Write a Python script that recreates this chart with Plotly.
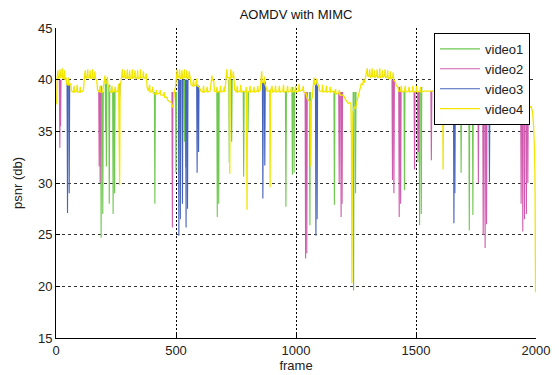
import plotly.graph_objects as go

# ---------------- data ----------------
x_ticks = [0, 500, 1000, 1500, 2000]
y_ticks = [15, 20, 25, 30, 35, 40, 45]

# video4 (yellow): (frame, psnr) vertices
video4_points = [
    (0, 37.6), (3, 38.0), (5, 40.2), (8, 40.9), (10, 40.1), (15, 40.3), (17, 41.0), (19, 40.2), (24, 40.4),
    (26, 41.1), (28, 40.1), (33, 40.3), (35, 40.9), (37, 40.0), (42, 40.2), (44, 39.6),
    (50, 39.5), (53, 40.2), (55, 39.5), (62, 39.6), (64, 38.9),
    (72, 38.8), (75, 39.4), (77, 38.8), (86, 38.9), (88, 39.5), (90, 38.8), (98, 38.8), (101, 39.3), (103, 38.8),
    (112, 38.9), (115, 39.1),
    (118, 40.2), (122, 40.9), (124, 40.1), (130, 40.3), (132, 41.0), (134, 40.2), (140, 40.2), (142, 40.9),
    (144, 40.1), (150, 40.3), (152, 41.0), (154, 40.1), (160, 40.2), (162, 40.8), (164, 40.1), (170, 39.9),
    (173, 39.0), (180, 38.8), (184, 39.4), (186, 38.8), (194, 38.8), (197, 39.3),
    (200, 39.5), (204, 40.4), (206, 39.6), (212, 39.7), (214, 40.3), (216, 39.5), (221, 39.3),
    (223, 38.9), (230, 38.8), (233, 39.4), (235, 38.8), (244, 38.9), (247, 39.3), (249, 38.8), (257, 38.9),
    (261, 39.6), (265, 29.8), (267, 39.5), (271, 39.8),
    (274, 40.4), (277, 41.0), (279, 40.2), (285, 40.3), (287, 40.9), (289, 40.1), (295, 40.2), (297, 41.0),
    (299, 40.1), (305, 40.3), (307, 40.9), (309, 40.1), (316, 40.2), (318, 41.0), (320, 40.1), (327, 40.3),
    (329, 40.9), (331, 40.1), (338, 40.2), (340, 40.9), (342, 40.1), (350, 40.2), (352, 41.0), (354, 40.1),
    (362, 40.3), (364, 40.8), (366, 40.1), (373, 40.2), (376, 40.6),
    (380, 39.2), (385, 38.9), (390, 39.5), (392, 38.8), (400, 38.9), (403, 39.3), (405, 38.7),
    (415, 38.6), (418, 39.0), (420, 38.6), (432, 38.7), (435, 39.0), (437, 38.5), (448, 38.5), (451, 38.8),
    (453, 38.3), (462, 38.3), (466, 38.0), (475, 37.9), (480, 37.8), (484, 37.3), (489, 37.6), (493, 38.8),
    (498, 39.3),
    (502, 40.3), (505, 41.0), (507, 40.2), (513, 40.3), (515, 41.0), (517, 40.1), (523, 40.2), (525, 40.9),
    (527, 40.1), (533, 40.3), (535, 41.0), (537, 40.2), (543, 40.2), (545, 40.9), (547, 40.1), (553, 40.2),
    (555, 40.8), (558, 40.0),
    (563, 39.5), (570, 39.4), (573, 40.0), (575, 39.4), (583, 39.5), (586, 40.1), (588, 39.4), (597, 39.3),
    (604, 38.9), (612, 38.8), (615, 39.4), (617, 38.8), (627, 38.9), (630, 39.3), (632, 38.8), (642, 38.9),
    (647, 40.0), (650, 40.4), (652, 39.9), (657, 40.0),
    (660, 38.9), (668, 38.8), (671, 39.3), (673, 38.8), (683, 38.9), (686, 39.4), (688, 38.8), (698, 38.9),
    (701, 39.3), (703, 38.8),
    (709, 40.3), (712, 41.0), (714, 40.2), (720, 40.2), (722, 40.1), (724, 30.9), (726, 40.2), (729, 41.0),
    (731, 40.2), (737, 40.3), (739, 40.8), (741, 39.6),
    (745, 39.0), (752, 38.8), (755, 39.4), (757, 38.8), (767, 38.9), (770, 39.5), (772, 38.8), (782, 38.9),
    (790, 38.8), (793, 39.3), (796, 27.4), (798, 38.8), (806, 38.9), (809, 39.4), (811, 38.8), (822, 38.9),
    (825, 39.3), (827, 38.8), (838, 38.9), (841, 39.4), (843, 38.8), (851, 39.0),
    (854, 39.8), (857, 40.8), (859, 39.7), (866, 39.8), (868, 40.3), (870, 39.6), (877, 39.2),
    (880, 38.9), (888, 38.9), (890, 39.0), (892, 29.6), (894, 38.9), (900, 39.4), (902, 38.8), (912, 38.9),
    (915, 39.4), (917, 38.8), (928, 38.9), (931, 39.4), (933, 38.8), (945, 38.9), (948, 39.5), (950, 38.8),
    (962, 38.9), (965, 39.4), (967, 38.8), (978, 38.9), (981, 39.3), (983, 38.8), (995, 38.9), (998, 39.4),
    (1000, 38.8), (1010, 38.9), (1013, 39.6), (1015, 38.9), (1027, 39.0), (1030, 39.4), (1032, 38.8),
    (1042, 38.7), (1046, 38.2), (1052, 38.0), (1058, 37.9), (1062, 31.6), (1064, 38.0), (1068, 38.3),
    (1072, 39.6), (1075, 40.2), (1078, 39.5), (1084, 39.7), (1087, 40.1), (1090, 39.4), (1095, 39.5),
    (1098, 38.9), (1108, 38.9), (1111, 39.5), (1113, 38.8), (1124, 38.9), (1127, 39.4), (1129, 38.8),
    (1140, 38.9), (1143, 39.3), (1145, 38.8), (1152, 38.9),
    (1160, 38.7), (1165, 39.1), (1167, 38.6), (1178, 38.7), (1181, 39.0), (1183, 38.5), (1195, 38.5),
    (1200, 38.4), (1206, 38.1),
    (1212, 37.9), (1218, 37.7), (1224, 37.8), (1229, 37.6), (1231, 34.5), (1233, 20.3), (1235, 33.0),
    (1237, 36.8), (1242, 37.4),
    (1248, 37.2), (1255, 38.0), (1262, 38.6), (1268, 39.2), (1272, 39.6), (1278, 39.5), (1281, 40.0),
    (1285, 39.7), (1290, 40.3),
    (1294, 40.5), (1297, 41.1), (1299, 40.3), (1305, 40.4), (1307, 41.0), (1309, 40.2), (1315, 40.4),
    (1317, 41.1), (1319, 40.3), (1325, 40.3), (1327, 40.9), (1329, 40.2), (1336, 40.4), (1338, 41.0),
    (1340, 40.2), (1347, 40.3), (1349, 41.1), (1351, 40.2), (1358, 40.3), (1360, 40.9), (1362, 40.2),
    (1369, 40.4), (1371, 41.0), (1373, 40.2), (1380, 40.3), (1382, 40.9), (1384, 40.1), (1391, 40.2),
    (1393, 40.8), (1395, 40.1), (1403, 40.2), (1405, 40.7), (1407, 40.0), (1414, 39.8),
    (1418, 39.4), (1424, 39.3), (1428, 38.9), (1436, 38.9), (1439, 39.4), (1441, 38.8), (1452, 38.9),
    (1455, 39.4), (1457, 38.8), (1468, 38.9), (1471, 39.3), (1473, 38.8), (1484, 38.9), (1487, 39.4),
    (1489, 38.8), (1500, 38.9), (1503, 39.4), (1505, 38.8), (1516, 38.9), (1519, 39.3), (1521, 38.8),
    (1532, 38.9),
    (1560, 38.9), (1600, 39.0), (1611, 39.0), (1613, 31.3), (1615, 39.0), (1650, 38.8), (1700, 39.1),
    (1750, 38.9), (1800, 39.0), (1850, 38.8), (1900, 38.9), (1935, 38.6),
    (1942, 38.0), (1950, 37.6), (1960, 37.7), (1970, 37.3), (1980, 37.4), (1986, 36.8), (1990, 35.5),
    (1994, 33.0), (1996, 30.0), (1998, 19.5), (2000, 19.5),
]

# dips of the other videos: (frame, lowest psnr)
video1_dips = [(188, 24.7), (195, 27.0), (207, 35.0), (210, 31.6), (222, 28.0), (238, 27.0), (244, 29.0),
               (412, 28.0), (500, 31.0), (535, 34.0), (540, 31.5), (672, 26.7), (678, 28.0), (722, 32.0),
               (732, 34.0), (782, 30.6), (800, 35.0), (958, 27.7), (985, 30.8), (992, 31.0), (1058, 25.9),
               (1160, 27.9), (1240, 19.6), (1248, 29.0), (1452, 29.3), (1508, 32.0), (1515, 25.9),
               (1522, 27.0), (1688, 31.0), (1722, 25.4), (1737, 26.9)]
video2_dips = [(16, 33.4), (19, 35.5), (180, 31.6), (184, 30.0), (485, 25.7), (1040, 22.7), (1045, 23.2),
               (1180, 30.0), (1188, 26.7), (1192, 28.0), (1402, 30.3), (1408, 29.0), (1430, 26.7),
               (1436, 28.0), (1494, 31.3), (1510, 33.0), (1564, 32.2), (1760, 30.0), (1780, 25.0),
               (1788, 23.7), (1794, 26.0), (1938, 28.0), (1945, 25.3), (1952, 26.5), (1960, 27.0), (1966, 30.0)]
video3_dips = [(48, 27.1), (55, 29.0), (265, 38.3), (512, 24.9), (518, 26.5), (527, 28.0), (542, 25.7),
               (548, 27.5), (588, 31.0), (594, 33.0), (862, 28.5), (870, 31.7), (1083, 24.9), (1088, 26.5),
               (1658, 26.1), (1662, 29.0), (1806, 30.1)]

# ---------------- build traces ----------------
v4_x = [p[0] for p in video4_points]
v4_y = [p[1] for p in video4_points]


def level_before(f):
    """psnr level of the common (yellow) baseline just before frame f"""
    lvl = v4_y[0]
    for fx, fy in video4_points:
        if fx <= f - 3:
            lvl = fy
        else:
            break
    return min(max(lvl, 38.8), 40.0)


def dip_series(dips):
    xs, ys = [], []
    for f, lo in dips:
        top = level_before(f)
        xs += [f - 2, f, f + 2, None]
        ys += [top, lo, top, None]
    return xs, ys


fig = go.Figure()
series = [
    ("video1", video1_dips, "#6fc84f"),
    ("video2", video2_dips, "#cf5cae"),
    ("video3", video3_dips, "#4663bb"),
]
for name, dips, col in series:
    xs, ys = dip_series(dips)
    fig.add_trace(go.Scatter(x=xs, y=ys, mode="lines", name=name,
                             line=dict(color=col, width=1.1), connectgaps=False))
fig.add_trace(go.Scatter(x=v4_x, y=v4_y, mode="lines", name="video4",
                         line=dict(color="#f2e600", width=1.3)))

font_family = "Liberation Sans, Arial, sans-serif"
axis_common = dict(showline=True, linecolor="black", linewidth=1, mirror=False,
                   ticks="inside", ticklen=4, tickcolor="black", zeroline=False,
                   showgrid=True, gridwidth=1, automargin=False,
                   tickfont=dict(family=font_family, size=13, color="#222"))

fig.update_layout(
    width=559, height=375,
    margin=dict(l=56, r=23, t=28, b=37),
    paper_bgcolor="white", plot_bgcolor="white",
    title=dict(text="AOMDV with MIMC", x=0.5296, xanchor="center", y=0.962, yanchor="middle",
               font=dict(family=font_family, size=13, color="#111")),
    xaxis=dict(range=[0, 2000], tickvals=x_ticks, gridcolor="black", griddash="2px,2px",
               ticklabelstandoff=0,
               title=dict(text="frame", font=dict(family=font_family, size=13, color="#222"), standoff=2),
               **axis_common),
    yaxis=dict(range=[15, 45], tickvals=y_ticks, gridcolor="#333", griddash="3px,3px",
               title=dict(text="psnr (db)", font=dict(family=font_family, size=13, color="#222"), standoff=12),
               **axis_common),
    legend=dict(x=0.9875, xanchor="right", y=0.984, yanchor="top",
                bgcolor="white", bordercolor="black", borderwidth=1,
                font=dict(family=font_family, size=13, color="#222"),
                itemwidth=40, tracegroupgap=0),
    showlegend=True,
)

fig.write_html("out.html")
